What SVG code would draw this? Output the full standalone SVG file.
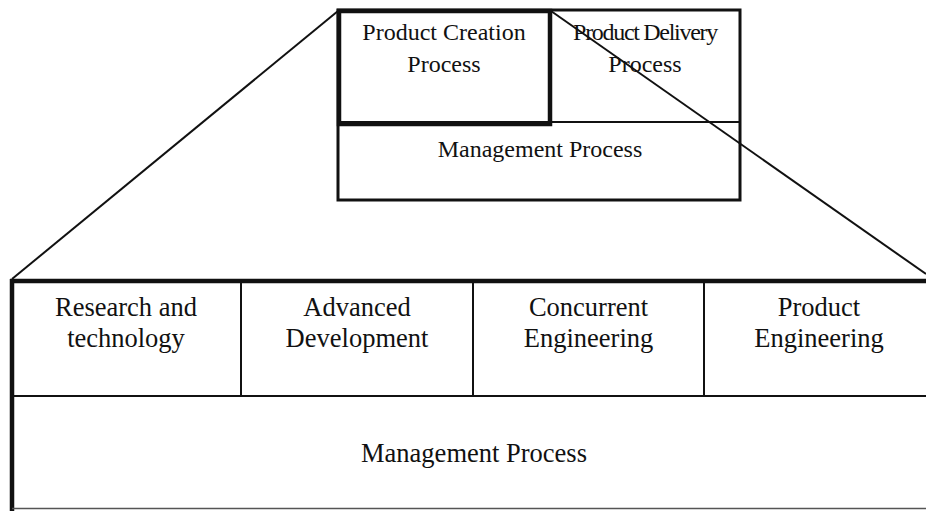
<svg xmlns="http://www.w3.org/2000/svg" width="926" height="511" viewBox="0 0 926 511">
<style>
text{font-family:"Liberation Serif","Times New Roman",serif;fill:#111;text-anchor:middle}
.t{font-size:24px}
.b{font-size:26.5px}
.thin{fill:none;stroke:#111;stroke-width:2}
.med{fill:none;stroke:#111;stroke-width:3}
.thick{fill:none;stroke:#111;stroke-width:4.5}
</style>
<rect width="926" height="511" fill="#fff"/>
<g id="connectors">
<line class="thin" x1="338" y1="11" x2="12" y2="279"/>
<line class="thin" x1="551" y1="11" x2="926" y2="274"/>
</g>
<g id="top-frame">
<rect class="med" x="338" y="10" width="402" height="190"/>
<line class="thin" x1="338" y1="122" x2="740" y2="122"/>
</g>
<g id="product-creation">
<rect class="thick" x="339" y="11" width="211" height="113"/>
<text class="t" x="444" y="40">Product Creation</text>
<text class="t" x="444" y="72">Process</text>
</g>
<g id="product-delivery">
<text class="t" x="645" y="40" letter-spacing="-1.3">Product Delivery</text>
<text class="t" x="645" y="72">Process</text>
</g>
<g id="top-management">
<text class="t" x="540" y="157">Management Process</text>
</g>
<g id="bottom-frame">
<line x1="10" y1="281" x2="926" y2="281" stroke="#111" stroke-width="4.5"/>
<line x1="12" y1="279" x2="12" y2="511" stroke="#111" stroke-width="4.5"/>
<line class="thin" x1="12" y1="396" x2="926" y2="396"/>
<line x1="12" y1="508.5" x2="926" y2="508.5" stroke="#555" stroke-width="1.5"/>
<line class="thin" x1="241" y1="281" x2="241" y2="396"/>
<line class="thin" x1="473" y1="281" x2="473" y2="396"/>
<line class="thin" x1="704" y1="281" x2="704" y2="396"/>
</g>
<g id="research">
<text class="b" x="126" y="316">Research and</text>
<text class="b" x="126" y="347">technology</text>
</g>
<g id="advanced">
<text class="b" x="357" y="316">Advanced</text>
<text class="b" x="357" y="347">Development</text>
</g>
<g id="concurrent">
<text class="b" x="588.5" y="316">Concurrent</text>
<text class="b" x="588.5" y="347">Engineering</text>
</g>
<g id="product-eng">
<text class="b" x="819" y="316">Product</text>
<text class="b" x="819" y="347">Engineering</text>
</g>
<g id="bottom-management">
<text class="b" x="474" y="462">Management Process</text>
</g>
</svg>
